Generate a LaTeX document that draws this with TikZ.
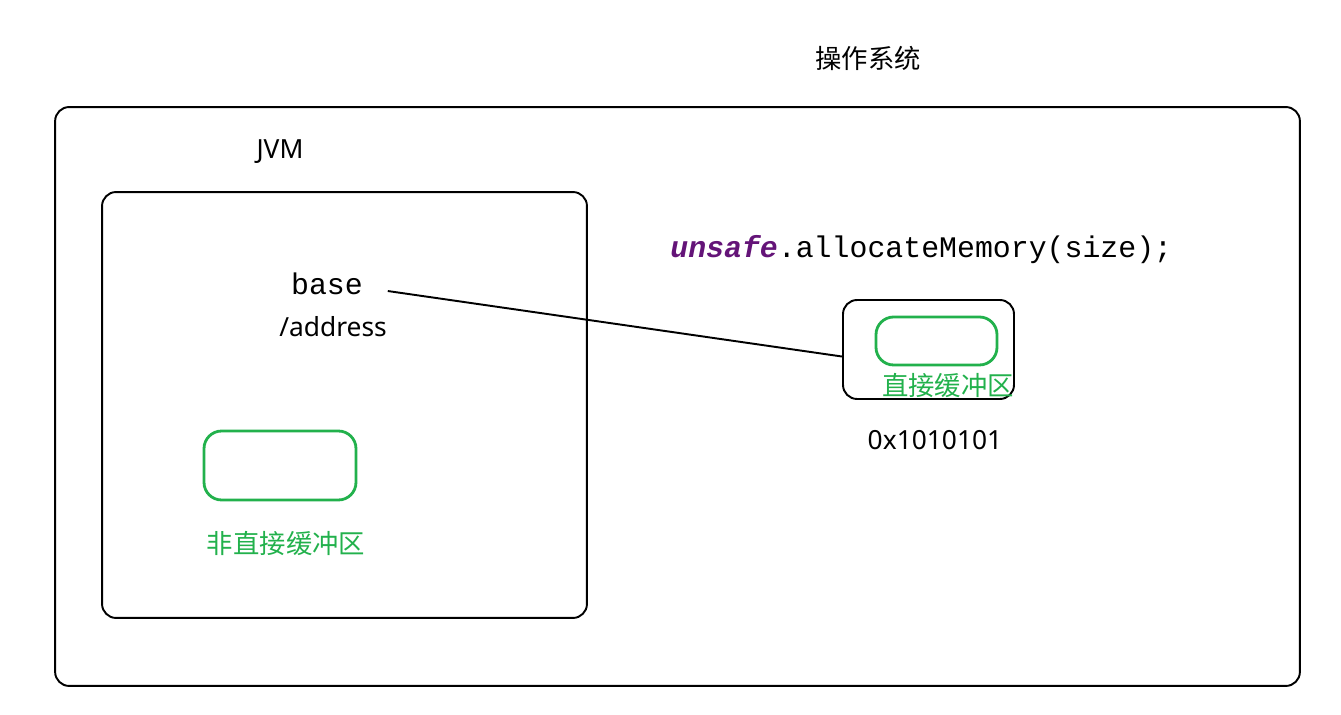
\documentclass[tikz,border=0pt]{standalone}
\usepackage{fontspec}
\setmainfont{Noto Sans}
\setmonofont{Liberation Mono}
\newfontfamily\cjk{Noto Sans CJK SC}
\definecolor{bufgreen}{RGB}{34,177,76}
\definecolor{kwpurple}{RGB}{100,20,120}
\tikzset{
	box/.style 2 args={draw,line width=1.1pt,rounded corners=8pt,minimum width=#1,minimum height=#2,inner sep=0pt},
	gbox/.style 2 args={draw=bufgreen,line width=1.6pt,rounded corners=10pt,minimum width=#1,minimum height=#2,inner sep=0pt},
	lbl/.style={font=\fontsize{15}{18}\selectfont,inner sep=0pt},
	clbl/.style={font=\fontsize{15}{18}\selectfont\cjk,inner sep=0pt},
	glbl/.style={clbl,text=bufgreen},
	code/.style={font=\fontsize{17}{20}\selectfont\ttfamily,inner sep=0pt}
}
\begin{document}
\begin{tikzpicture}[x=0.02cm,y=-0.02cm]
	\useasboundingbox (0,0) rectangle (1341,715);
	\node [box={24.9cm}{11.58cm}] (os) at (677.5,396.5) {};
	\node [clbl] (ostitle) at (868,58) {操作系统};
	\node [box={9.7cm}{8.52cm}] (jvm) at (344.5,405) {};
	\node [lbl] (jvmtitle) at (280,152) {JVM};
	\node [code] (base) at (327,284) {base};
	\node [lbl] (address) at (333,327) {/address};
	\node [gbox={3.04cm}{1.38cm}] (heapbuf) at (280,465.5) {};
	\node [glbl] (heaplbl) at (286,544) {非直接缓冲区};

	\node [code,anchor=west] (alloc) at (670,250) {\textcolor{kwpurple}{\bfseries\itshape unsafe}.allocateMemory(size);};
	\node [box={3.42cm}{1.98cm}] (mem) at (928.5,349.5) {};
	\node [gbox={2.42cm}{0.96cm}] (directbuf) at (936.5,341) {};
	\node [glbl] (directlbl) at (948,386) {直接缓冲区};
	\node [lbl] (addr) at (935,440) {0x1010101};

	\draw [line width=1.1pt] ([xshift=14pt,yshift=-4pt]base.east) -- ([yshift=-4pt]mem.west);
\end{tikzpicture}
\end{document}
